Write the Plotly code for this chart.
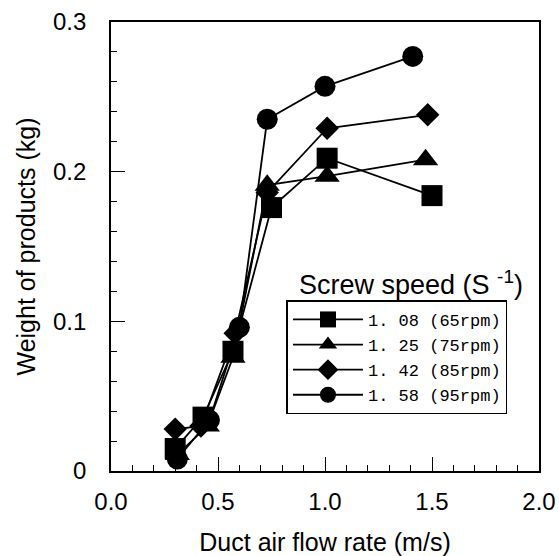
import plotly.graph_objects as go

# Data
x_65 = [0.30, 0.43, 0.57, 0.75, 1.01, 1.50]
y_65 = [0.015, 0.036, 0.080, 0.176, 0.209, 0.184]
x_75 = [0.31, 0.45, 0.57, 0.73, 1.01, 1.47]
y_75 = [0.011, 0.030, 0.076, 0.191, 0.197, 0.208]
x_85 = [0.30, 0.42, 0.58, 0.73, 1.01, 1.48]
y_85 = [0.028, 0.030, 0.092, 0.186, 0.229, 0.238]
x_95 = [0.31, 0.46, 0.60, 0.73, 1.00, 1.41]
y_95 = [0.008, 0.034, 0.096, 0.235, 0.257, 0.277]

series_names = ["1. 08 (65rpm)", "1. 25 (75rpm)", "1. 42 (85rpm)", "1. 58 (95rpm)"]
x_tick_vals = [0.0, 0.5, 1.0, 1.5, 2.0]
x_tick_text = ["0.0", "0.5", "1.0", "1.5", "2.0"]
y_tick_vals = [0.0, 0.1, 0.2, 0.3]
y_tick_text = ["0", "0.1", "0.2", "0.3"]

xs = [x_65, x_75, x_85, x_95]
ys = [y_65, y_75, y_85, y_95]
symbols = ["square", "triangle-up", "diamond", "circle"]
sizes = [21, 22, 18, 21]

fig = go.Figure()
for xv, yv, name, sym, sz in zip(xs, ys, series_names, symbols, sizes):
    fig.add_trace(go.Scatter(
        x=xv, y=yv, name=name, mode="lines+markers",
        line=dict(color="black", width=1.8),
        marker=dict(symbol=sym, size=sz, color="black"),
    ))

sans = "Liberation Sans, Arial, sans-serif"
axis_font = dict(family=sans, size=24, color="black")

fig.update_layout(
    width=559, height=556,
    margin=dict(l=111, r=20, t=22, b=85, autoexpand=False),
    paper_bgcolor="white", plot_bgcolor="white",
    showlegend=True,
    legend=dict(
        x=0.41, y=0.38, xanchor="left", yanchor="top",
        bordercolor="black", borderwidth=1.5,
        font=dict(family="Liberation Mono, monospace", size=17, color="black"),
        bgcolor="white", itemwidth=70, tracegroupgap=0,
    ),
    annotations=[dict(
        text="Screw speed (S <sup>-1</sup>)", xref="paper", yref="paper",
        x=0.70, y=0.418, xanchor="center", yanchor="middle", showarrow=False,
        font=dict(family=sans, size=27, color="black"),
    )],
)

fig.update_xaxes(
    range=[0, 2.0], tickvals=x_tick_vals, ticktext=x_tick_text,
    showgrid=False, zeroline=False, automargin=False,
    showline=True, linecolor="black", linewidth=1.8, mirror=True,
    ticks="inside", ticklen=14, tickwidth=1.3, tickcolor="black",
    minor=dict(dtick=0.1, ticks="inside", ticklen=6, tickwidth=1.1, tickcolor="black", showgrid=False),
    tickfont=axis_font, ticklabelstandoff=8,
    title=dict(text="Duct air flow rate (m/s)", font=dict(family=sans, size=25, color="black"), standoff=22),
)
fig.update_yaxes(
    range=[0, 0.3], tickvals=y_tick_vals, ticktext=y_tick_text,
    showgrid=False, zeroline=False, automargin=False,
    showline=True, linecolor="black", linewidth=1.8, mirror=True,
    ticks="inside", ticklen=14, tickwidth=1.3, tickcolor="black",
    minor=dict(dtick=0.02, ticks="inside", ticklen=6, tickwidth=1.1, tickcolor="black", showgrid=False),
    tickfont=axis_font, ticklabelstandoff=18,
    title=dict(text="Weight of products (kg)", font=dict(family=sans, size=25, color="black"), standoff=10),
)

fig.write_html("out.html")
